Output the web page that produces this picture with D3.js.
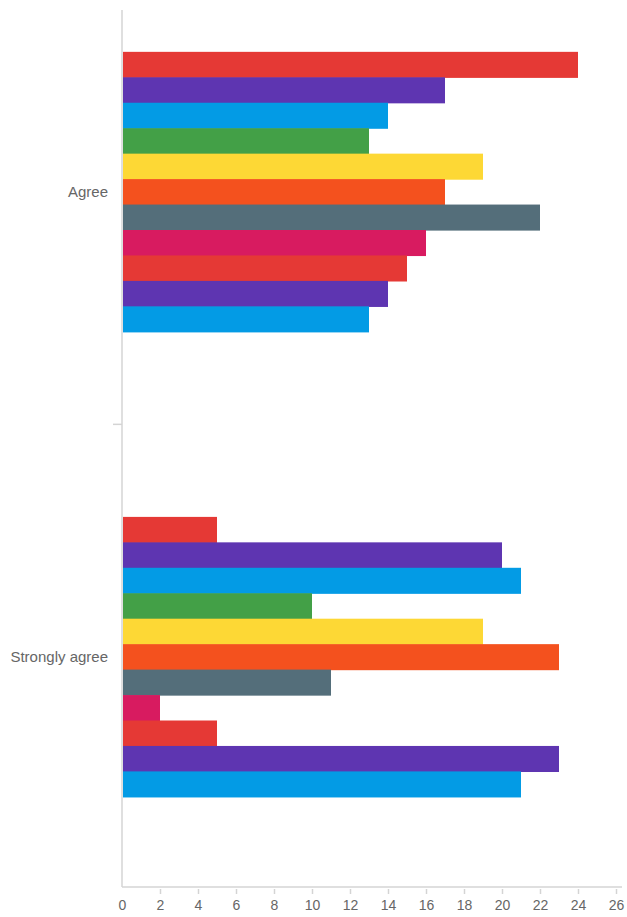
<!DOCTYPE html>
<html>
<head>
<meta charset="utf-8">
<script src="https://cdnjs.cloudflare.com/ajax/libs/d3/7.8.5/d3.min.js"></script>
<style>
  body { margin: 0; background: #fff; }
  text { font-family: "Liberation Sans", Arial, sans-serif; fill: #666; }
</style>
</head>
<body>
<div id="chart"></div>
<script>
var categories = ["Agree", "Strongly agree"];
var series = ["s1", "s2", "s3", "s4", "s5", "s6", "s7", "s8", "s9", "s10", "s11"];
var colors = ["#e53935", "#5e35b1", "#039be5", "#43a047", "#fdd835", "#f4511e",
              "#546e7a", "#d81b60", "#e53935", "#5e35b1", "#039be5"];
var agreeValues = [24, 17, 14, 13, 19, 17, 22, 16, 15, 14, 13];
var stronglyAgreeValues = [5, 20, 21, 10, 19, 23, 11, 2, 5, 23, 21];
var xTicks = [0, 2, 4, 6, 8, 10, 12, 14, 16, 18, 20, 22, 24, 26];

var width = 627;
var height = 917;
var axisColor = "#d4d4d4";
var plotLeft = 122;
var plotTop = 10;
var plotBottom = 887;

var rows = categories.map(function (c, i) {
  var vals = i === 0 ? agreeValues : stronglyAgreeValues;
  return { category: c, values: vals.map(function (v, j) { return { key: series[j], value: v, color: colors[j] }; }) };
});

var svg = d3.select("div#chart")
  .append("svg")
  .attr("width", width)
  .attr("height", height);

var x = d3.scaleLinear()
  .domain([0, 26])
  .range([plotLeft, 616]);

// the top band sits partly above the visible area
var y0 = d3.scaleBand()
  .domain(categories)
  .range([-40.7, 889.4])
  .paddingInner(0.398)
  .paddingOuter(0.199);

var y1 = d3.scaleBand()
  .domain(series)
  .range([0, y0.bandwidth()]);

// bars
svg.append("g")
  .selectAll("g")
  .data(rows)
  .enter()
  .append("g")
  .attr("transform", function (d) { return "translate(0," + y0(d.category) + ")"; })
  .selectAll("rect")
  .data(function (d) { return d.values; })
  .enter()
  .append("rect")
  .attr("x", x(0) + 1)
  .attr("y", function (d) { return y1(d.key); })
  .attr("width", function (d) { return x(d.value) - x(0) - 1; })
  .attr("height", y1.bandwidth() + 0.6)
  .attr("fill", function (d) { return d.color; });

// x axis
var xAxis = svg.append("g")
  .attr("transform", "translate(0," + plotBottom + ")")
  .call(d3.axisBottom(x).tickValues(xTicks).tickSize(6).tickSizeOuter(0));
xAxis.select(".domain").remove();
xAxis.selectAll(".tick line").attr("stroke", axisColor).attr("stroke-width", 1.5).attr("y1", 2).attr("y2", 7);
xAxis.selectAll(".tick text").attr("y", 13).style("font-size", "14px").attr("fill", "#666");
xAxis.select(".tick:first-of-type line").remove();

svg.append("line")
  .attr("x1", plotLeft)
  .attr("x2", 622)
  .attr("y1", plotBottom)
  .attr("y2", plotBottom)
  .attr("stroke", axisColor)
  .attr("stroke-width", 1.5);

// y axis line
svg.append("line")
  .attr("x1", plotLeft)
  .attr("x2", plotLeft)
  .attr("y1", plotTop)
  .attr("y2", plotBottom)
  .attr("stroke", axisColor)
  .attr("stroke-width", 1.5);

// tick between the two groups
var boundary = (y0(categories[0]) + y0.bandwidth() + y0(categories[1])) / 2;
svg.append("line")
  .attr("x1", plotLeft - 9)
  .attr("x2", plotLeft)
  .attr("y1", boundary)
  .attr("y2", boundary)
  .attr("stroke", axisColor)
  .attr("stroke-width", 1.5);

// category labels
svg.append("g")
  .selectAll("text")
  .data(categories)
  .enter()
  .append("text")
  .attr("x", 108)
  .attr("y", function (d) { return y0(d) + y0.bandwidth() / 2; })
  .attr("dy", "0.35em")
  .attr("text-anchor", "end")
  .style("font-size", "15px")
  .text(function (d) { return d; });
</script>
</body>
</html>
